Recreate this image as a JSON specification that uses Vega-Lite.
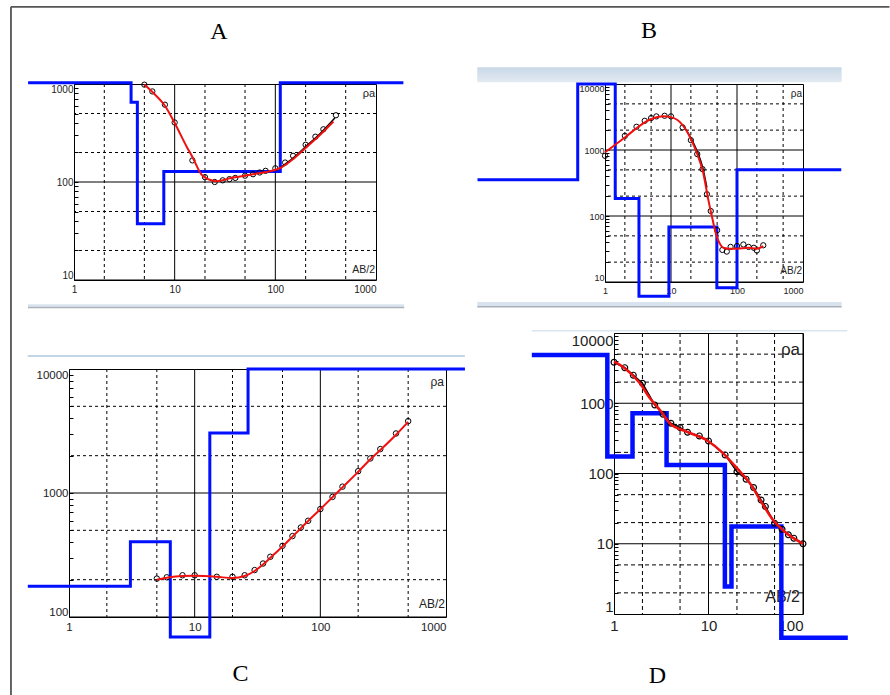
{
"$schema": "https://vega.github.io/schema/vega-lite/v6.json",
"padding": {"left": 9, "top": 5, "right": 0, "bottom": 0},
"background": "white",
"bounds": "flush",
"spacing": 249,
"config": {
  "view": {"stroke": "#000", "strokeWidth": 1},
  "axis": {"labelFont": "Liberation Sans", "labelColor": "#222", "grid": false, "domain": false},
  "title": {"font": "Liberation Serif", "fontSize": 24, "fontWeight": "normal", "color": "#000"},
  "text": {"font": "Liberation Sans", "color": "#222"}
},
"datasets": {
  "gxMin": [{"x":2},{"x":5},{"x":20},{"x":50},{"x":200},{"x":500}],
  "gxMaj": [{"x":10},{"x":100}],
  "gyMin": [{"y":2},{"y":5},{"y":20},{"y":50},{"y":200},{"y":500},{"y":2000},{"y":5000}],
  "gyMaj": [{"y":10},{"y":100},{"y":1000}],
  "frame": [{"x":0.2365,"x2":0.2365,"y":6124,"y2":0.000537},{"x":0.2365,"x2":126000000,"y":6124,"y2":6124}],
  "A_band": [{"x":0.349,"x2":1905,"y":5.655,"y2":5.33}],
  "A_bandline": [{"x":0.349,"x2":1905,"y":5.236}],
  "B_topband": [{"x":0.0116,"x2":3848,"y":17920,"y2":10612}],
  "B_band": [{"x":0.0116,"x2":3848,"y":4.97,"y2":4.32}],
  "B_bandline": [{"x":0.0116,"x2":3848,"y":4.205}],
  "C_topline": [{"x":0.469,"x2":1413,"y":12740}],
  "D_topline": [{"x":0.135,"x2":294,"y":10790}],
  "A_model": [{"i":0,"x":0.35,"y":1030},{"i":1,"x":3.69,"y":1030},{"i":2,"x":3.69,"y":650},{"i":3,"x":4.26,"y":650},{"i":4,"x":4.26,"y":37.5},{"i":5,"x":7.8,"y":37.5},{"i":6,"x":7.8,"y":128},{"i":7,"x":112,"y":128},{"i":8,"x":112,"y":1030},{"i":9,"x":1870,"y":1030}],
  "A_obs": [{"x":5,"y":985},{"x":6,"y":840},{"x":8,"y":615},{"x":10,"y":405},{"x":15,"y":166},{"x":20,"y":112},{"x":25,"y":100},{"x":30,"y":104},{"x":35,"y":107},{"x":40,"y":110},{"x":50,"y":116},{"x":60,"y":120},{"x":70,"y":125},{"x":80,"y":130},{"x":100,"y":138},{"x":125,"y":158},{"x":150,"y":185},{"x":200,"y":240},{"x":250,"y":290},{"x":300,"y":345},{"x":400,"y":480}],
  "A_fit": [{"x":5,"y":990},{"x":6.15,"y":810},{"x":8,"y":600},{"x":10,"y":400},{"x":13.2,"y":228},{"x":15,"y":180},{"x":18.5,"y":119},{"x":22,"y":106},{"x":26,"y":102},{"x":38,"y":111},{"x":60,"y":120},{"x":112,"y":139},{"x":151,"y":172},{"x":205,"y":228},{"x":279,"y":304},{"x":378,"y":415}],
  "A_black": [{"x":112,"y":140},{"x":151,"y":176},{"x":205,"y":234},{"x":279,"y":313},{"x":390,"y":450}],
  "B_model": [{"i":0,"x":0.0117,"y":353},{"i":1,"x":0.386,"y":353},{"i":2,"x":0.386,"y":10000},{"i":3,"x":1.43,"y":10000},{"i":4,"x":1.43,"y":184},{"i":5,"x":3.27,"y":184},{"i":6,"x":3.27,"y":6.1},{"i":7,"x":9.3,"y":6.1},{"i":8,"x":9.3,"y":68.4},{"i":9,"x":49.5,"y":68.4},{"i":10,"x":49.5,"y":8.2},{"i":11,"x":100,"y":8.2},{"i":12,"x":100,"y":500},{"i":13,"x":3800,"y":500}],
  "B_obs": [{"x":1,"y":817},{"x":2,"y":1640},{"x":3,"y":2250},{"x":4,"y":2770},{"x":5,"y":3050},{"x":6,"y":3230},{"x":8,"y":3300},{"x":10,"y":3230},{"x":15,"y":2200},{"x":20,"y":1410},{"x":25,"y":867},{"x":30,"y":513},{"x":35,"y":214},{"x":40,"y":119},{"x":50,"y":61},{"x":60,"y":30.6},{"x":70,"y":28.9},{"x":80,"y":34},{"x":100,"y":35},{"x":125,"y":37},{"x":150,"y":34},{"x":180,"y":33},{"x":200,"y":30},{"x":250,"y":36}],
  "B_fit": [{"x":1,"y":920},{"x":2,"y":1550},{"x":3.8,"y":2530},{"x":5,"y":2950},{"x":7.6,"y":3250},{"x":10,"y":3150},{"x":15.3,"y":2330},{"x":20,"y":1470},{"x":25,"y":870},{"x":30.7,"y":457},{"x":36.6,"y":180},{"x":42.6,"y":89},{"x":49,"y":50},{"x":55,"y":38},{"x":62,"y":33},{"x":74,"y":32},{"x":100,"y":32},{"x":150,"y":33},{"x":200,"y":32},{"x":250,"y":35}],
  "B_black": [{"x":15,"y":2400},{"x":20,"y":1530},{"x":25,"y":950},{"x":30,"y":560},{"x":35,"y":270}],
  "C_model": [{"i":0,"x":0.47,"y":177},{"i":1,"x":3.08,"y":177},{"i":2,"x":3.08,"y":404},{"i":3,"x":6.4,"y":404},{"i":4,"x":6.4,"y":69},{"i":5,"x":13.2,"y":69},{"i":6,"x":13.2,"y":3050},{"i":7,"x":26.6,"y":3050},{"i":8,"x":26.6,"y":10000},{"i":9,"x":1415,"y":10000}],
  "C_obs": [{"x":5,"y":204},{"x":6,"y":209},{"x":8,"y":217},{"x":10,"y":217},{"x":15,"y":211},{"x":20,"y":211},{"x":25,"y":217},{"x":30,"y":239},{"x":35,"y":270},{"x":40,"y":306},{"x":50,"y":375},{"x":60,"y":449},{"x":70,"y":527},{"x":80,"y":597},{"x":100,"y":742},{"x":125,"y":930},{"x":150,"y":1125},{"x":200,"y":1500},{"x":250,"y":1900},{"x":300,"y":2260},{"x":400,"y":3020},{"x":500,"y":3800}],
  "C_fit": [{"x":5,"y":200},{"x":6,"y":207},{"x":8,"y":214},{"x":10,"y":215},{"x":15,"y":211},{"x":20,"y":206},{"x":25,"y":214},{"x":30,"y":235},{"x":35,"y":265},{"x":40,"y":300},{"x":50,"y":370},{"x":60,"y":445},{"x":70,"y":520},{"x":80,"y":595},{"x":100,"y":740},{"x":125,"y":925},{"x":150,"y":1110},{"x":200,"y":1480},{"x":250,"y":1870},{"x":300,"y":2220},{"x":400,"y":2950},{"x":500,"y":3750}],
  "D_model": [{"i":0,"x":0.135,"y":4870},{"i":1,"x":0.85,"y":4870},{"i":2,"x":0.85,"y":174},{"i":3,"x":1.57,"y":174},{"i":4,"x":1.57,"y":720},{"i":5,"x":3.6,"y":720},{"i":6,"x":3.6,"y":132},{"i":7,"x":14.9,"y":132},{"i":8,"x":14.9,"y":2.46},{"i":9,"x":17.5,"y":2.46},{"i":10,"x":17.5,"y":17.6},{"i":11,"x":59,"y":17.6},{"i":12,"x":59,"y":0.46},{"i":13,"x":298,"y":0.46}],
  "D_obs": [{"x":1,"y":3830},{"x":1.3,"y":3210},{"x":1.6,"y":2510},{"x":2,"y":1920},{"x":2.7,"y":946},{"x":3.3,"y":697},{"x":4,"y":519},{"x":5,"y":450},{"x":6,"y":387},{"x":8,"y":343},{"x":10,"y":291},{"x":15,"y":184},{"x":20,"y":106},{"x":25,"y":83},{"x":30,"y":63},{"x":36,"y":42},{"x":40,"y":34},{"x":50,"y":19.6},{"x":60,"y":16.1},{"x":70,"y":13.4},{"x":80,"y":12},{"x":100,"y":10}],
  "D_fit": [{"x":1,"y":3900},{"x":1.3,"y":3150},{"x":1.88,"y":1920},{"x":2.4,"y":1175},{"x":3.06,"y":803},{"x":3.9,"y":519},{"x":5.86,"y":394},{"x":9.5,"y":300},{"x":14.3,"y":194},{"x":20,"y":119},{"x":27.3,"y":73},{"x":37.7,"y":36},{"x":48,"y":22},{"x":66.6,"y":14.2},{"x":100,"y":10}]
},
"vconcat": [
 {"bounds": "flush", "spacing": 0, "hconcat": [
  {"width": 5, "height": 1, "view": {"stroke": null}, "data": {"values": [{}]}, "mark": {"type": "point", "opacity": 0}, "encoding": {}},
  {"bounds": "flush", "spacing": 531, "hconcat": [
   {"bounds": "flush", "vconcat": [
    {"width": 302, "height": 196,
     "title": {"text": "A", "orient": "top", "frame": "group", "anchor": "middle", "dx": -6, "offset": -57.2, "baseline": "alphabetic"},
     "layer": [
      {"data": {"name": "gxMin"}, "mark": {"type": "rule", "clip": true, "color": "#000", "strokeWidth": 1, "strokeDash": [3,3]},
       "encoding": {"x": {"field": "x", "type": "quantitative", "scale": {"type": "log", "domain": [1,1000], "nice": false}}}},
      {"data": {"name": "gxMaj"}, "mark": {"type": "rule", "clip": true, "color": "#000", "strokeWidth": 1},
       "encoding": {"x": {"field": "x", "type": "quantitative", "scale": {"type": "log", "domain": [1,1000], "nice": false}}}},
      {"data": {"name": "gyMin"}, "mark": {"type": "rule", "clip": true, "color": "#000", "strokeWidth": 1, "strokeDash": [3,3]},
       "encoding": {"y": {"field": "y", "type": "quantitative", "scale": {"type": "log", "domain": [10,1000], "nice": false}}}},
      {"data": {"name": "gyMaj"}, "mark": {"type": "rule", "clip": true, "color": "#000", "strokeWidth": 1},
       "encoding": {"y": {"field": "y", "type": "quantitative", "scale": {"type": "log", "domain": [10,1000], "nice": false}}}},
      {"data": {"name": "frame"}, "mark": {"type": "rule", "color": "#555", "strokeWidth": 1.8},
       "encoding": {"x": {"field": "x", "type": "quantitative", "scale": {"type": "log", "domain": [1,1000], "nice": false}}, "x2": {"field": "x2"},
                    "y": {"field": "y", "type": "quantitative", "scale": {"type": "log", "domain": [10,1000], "nice": false}}, "y2": {"field": "y2"}}},
      {"data": {"name": "A_band"}, "mark": {"type": "rect", "color": "#d9e3ee"},
       "encoding": {"x": {"field": "x", "type": "quantitative", "scale": {"type": "log", "domain": [1,1000], "nice": false}}, "x2": {"field": "x2"},
                    "y": {"field": "y", "type": "quantitative", "scale": {"type": "log", "domain": [10,1000], "nice": false}}, "y2": {"field": "y2"}}},
      {"data": {"name": "A_bandline"}, "mark": {"type": "rule", "color": "#a9b1ba", "strokeWidth": 1.5},
       "encoding": {"x": {"field": "x", "type": "quantitative", "scale": {"type": "log", "domain": [1,1000], "nice": false}}, "x2": {"field": "x2"},
                    "y": {"field": "y", "type": "quantitative", "scale": {"type": "log", "domain": [10,1000], "nice": false}}}},
      {"data": {"values": [{}]}, "mark": {"type": "text", "text": "ρa", "align": "right", "baseline": "alphabetic", "dx": -1, "dy": 13, "fontSize": 11},
       "encoding": {"x": {"datum": 1000, "type": "quantitative", "scale": {"type": "log", "domain": [1,1000], "nice": false}},
                    "y": {"datum": 1000, "type": "quantitative", "scale": {"type": "log", "domain": [10,1000], "nice": false}}}},
      {"data": {"values": [{}]}, "mark": {"type": "text", "text": "AB/2", "align": "right", "baseline": "alphabetic", "dx": -1, "dy": -7, "fontSize": 10.5},
       "encoding": {"x": {"datum": 1000, "type": "quantitative", "scale": {"type": "log", "domain": [1,1000], "nice": false}},
                    "y": {"datum": 10, "type": "quantitative", "scale": {"type": "log", "domain": [10,1000], "nice": false}}}},
      {"data": {"name": "A_model"}, "mark": {"type": "line", "color": "#0010ff", "strokeWidth": 3},
       "encoding": {"x": {"field": "x", "type": "quantitative", "scale": {"type": "log", "domain": [1,1000], "nice": false}},
                    "y": {"field": "y", "type": "quantitative", "scale": {"type": "log", "domain": [10,1000], "nice": false}},
                    "order": {"field": "i", "type": "quantitative"}}},
      {"data": {"name": "A_black"}, "mark": {"type": "line", "color": "#000", "strokeWidth": 1.5, "interpolate": "monotone"},
       "encoding": {"x": {"field": "x", "type": "quantitative", "scale": {"type": "log", "domain": [1,1000], "nice": false}},
                    "y": {"field": "y", "type": "quantitative", "scale": {"type": "log", "domain": [10,1000], "nice": false}}}},
      {"data": {"name": "A_obs"}, "mark": {"type": "point", "filled": false, "color": "#000", "size": 28, "strokeWidth": 1, "opacity": 1},
       "encoding": {"x": {"field": "x", "type": "quantitative", "scale": {"type": "log", "domain": [1,1000], "nice": false},
                      "axis": {"title": null, "values": [1,10,100,1000], "format": "d", "labelFontSize": 10, "ticks": false, "labelPadding": 4, "labelFlush": false, "labelOverlap": false,
                        "labelAlign": {"condition": {"test": "datum.value >= 1000", "value": "right"}, "value": "center"}}},
                    "y": {"field": "y", "type": "quantitative", "scale": {"type": "log", "domain": [10,1000], "nice": false},
                      "axis": {"title": null, "values": [10,20,30,40,50,60,70,80,90,100,200,300,400,500,600,700,800,900,1000], "format": "d",
                        "labelExpr": "datum.value == 10 || datum.value == 100 || datum.value == 1000 ? datum.label : ''",
                        "labelFontSize": 10, "labelFlush": true, "labelOverlap": false, "tickSize": -4, "tickColor": "#000", "labelPadding": 5}}}},
      {"data": {"name": "A_fit"}, "mark": {"type": "line", "color": "#f01010", "strokeWidth": 2, "interpolate": "monotone"},
       "encoding": {"x": {"field": "x", "type": "quantitative", "scale": {"type": "log", "domain": [1,1000], "nice": false}},
                    "y": {"field": "y", "type": "quantitative", "scale": {"type": "log", "domain": [10,1000], "nice": false}}}}
     ]}
   ]},
   {"bounds": "flush", "vconcat": [
    {"width": 198, "height": 198,
     "title": {"text": "B", "orient": "top", "frame": "group", "anchor": "middle", "dx": -55, "offset": 4.8, "baseline": "alphabetic"},
     "layer": [
      {"data": {"name": "gxMin"}, "mark": {"type": "rule", "clip": true, "color": "#000", "strokeWidth": 1, "strokeDash": [3,3]},
       "encoding": {"x": {"field": "x", "type": "quantitative", "scale": {"type": "log", "domain": [1,1000], "nice": false}}}},
      {"data": {"name": "gxMaj"}, "mark": {"type": "rule", "clip": true, "color": "#000", "strokeWidth": 1},
       "encoding": {"x": {"field": "x", "type": "quantitative", "scale": {"type": "log", "domain": [1,1000], "nice": false}}}},
      {"data": {"name": "gyMin"}, "mark": {"type": "rule", "clip": true, "color": "#000", "strokeWidth": 1, "strokeDash": [3,3]},
       "encoding": {"y": {"field": "y", "type": "quantitative", "scale": {"type": "log", "domain": [10,10000], "nice": false}}}},
      {"data": {"name": "gyMaj"}, "mark": {"type": "rule", "clip": true, "color": "#000", "strokeWidth": 1},
       "encoding": {"y": {"field": "y", "type": "quantitative", "scale": {"type": "log", "domain": [10,10000], "nice": false}}}},
      {"data": {"name": "B_topband"}, "mark": {"type": "rect", "color": {"gradient": "linear", "x1": 0, "y1": 0, "x2": 0, "y2": 1, "stops": [{"offset": 0, "color": "#c9d8e7"}, {"offset": 1, "color": "#e3eaf2"}]}},
       "encoding": {"x": {"field": "x", "type": "quantitative", "scale": {"type": "log", "domain": [1,1000], "nice": false}}, "x2": {"field": "x2"},
                    "y": {"field": "y", "type": "quantitative", "scale": {"type": "log", "domain": [10,10000], "nice": false}}, "y2": {"field": "y2"}}},
      {"data": {"name": "B_band"}, "mark": {"type": "rect", "color": "#d9e3ee"},
       "encoding": {"x": {"field": "x", "type": "quantitative", "scale": {"type": "log", "domain": [1,1000], "nice": false}}, "x2": {"field": "x2"},
                    "y": {"field": "y", "type": "quantitative", "scale": {"type": "log", "domain": [10,10000], "nice": false}}, "y2": {"field": "y2"}}},
      {"data": {"name": "B_bandline"}, "mark": {"type": "rule", "color": "#a9b1ba", "strokeWidth": 1.5},
       "encoding": {"x": {"field": "x", "type": "quantitative", "scale": {"type": "log", "domain": [1,1000], "nice": false}}, "x2": {"field": "x2"},
                    "y": {"field": "y", "type": "quantitative", "scale": {"type": "log", "domain": [10,10000], "nice": false}}}},
      {"data": {"values": [{}]}, "mark": {"type": "text", "text": "ρa", "align": "right", "baseline": "alphabetic", "dx": -1, "dy": 13, "fontSize": 10},
       "encoding": {"x": {"datum": 1000, "type": "quantitative", "scale": {"type": "log", "domain": [1,1000], "nice": false}},
                    "y": {"datum": 10000, "type": "quantitative", "scale": {"type": "log", "domain": [10,10000], "nice": false}}}},
      {"data": {"values": [{}]}, "mark": {"type": "text", "text": "AB/2", "align": "right", "baseline": "alphabetic", "dx": -1, "dy": -8, "fontSize": 10},
       "encoding": {"x": {"datum": 1000, "type": "quantitative", "scale": {"type": "log", "domain": [1,1000], "nice": false}},
                    "y": {"datum": 10, "type": "quantitative", "scale": {"type": "log", "domain": [10,10000], "nice": false}}}},
      {"data": {"name": "B_model"}, "mark": {"type": "line", "color": "#0010ff", "strokeWidth": 3},
       "encoding": {"x": {"field": "x", "type": "quantitative", "scale": {"type": "log", "domain": [1,1000], "nice": false}},
                    "y": {"field": "y", "type": "quantitative", "scale": {"type": "log", "domain": [10,10000], "nice": false}},
                    "order": {"field": "i", "type": "quantitative"}}},
      {"data": {"name": "B_black"}, "mark": {"type": "line", "color": "#000", "strokeWidth": 1.5, "interpolate": "monotone"},
       "encoding": {"x": {"field": "x", "type": "quantitative", "scale": {"type": "log", "domain": [1,1000], "nice": false}},
                    "y": {"field": "y", "type": "quantitative", "scale": {"type": "log", "domain": [10,10000], "nice": false}}}},
      {"data": {"name": "B_obs"}, "mark": {"type": "point", "filled": false, "color": "#000", "size": 28, "strokeWidth": 1, "opacity": 1},
       "encoding": {"x": {"field": "x", "type": "quantitative", "scale": {"type": "log", "domain": [1,1000], "nice": false},
                      "axis": {"title": null, "values": [1,10,100,1000], "format": "d", "labelFontSize": 9, "ticks": false, "labelPadding": 4, "labelFlush": false, "labelOverlap": false,
                        "labelAlign": {"condition": {"test": "datum.value >= 1000", "value": "right"}, "value": "center"}}},
                    "y": {"field": "y", "type": "quantitative", "scale": {"type": "log", "domain": [10,10000], "nice": false},
                      "axis": {"title": null, "values": [10,20,30,40,50,60,70,80,90,100,200,300,400,500,600,700,800,900,1000,2000,3000,4000,5000,6000,7000,8000,9000,10000], "format": "d",
                        "labelExpr": "datum.value == 10 || datum.value == 100 || datum.value == 1000 || datum.value == 10000 ? datum.label : ''",
                        "labelFontSize": 9, "labelFlush": true, "labelOverlap": false, "tickSize": -4, "tickColor": "#000", "labelPadding": 5}}}},
      {"data": {"name": "B_fit"}, "mark": {"type": "line", "color": "#f01010", "strokeWidth": 2, "interpolate": "monotone"},
       "encoding": {"x": {"field": "x", "type": "quantitative", "scale": {"type": "log", "domain": [1,1000], "nice": false}},
                    "y": {"field": "y", "type": "quantitative", "scale": {"type": "log", "domain": [10,10000], "nice": false}}}}
     ]}
   ]}
  ]}
 ]},
 {"bounds": "flush", "spacing": 545, "hconcat": [
  {"bounds": "flush", "spacing": 0, "vconcat": [
   {"width": 1, "height": 36, "view": {"stroke": null}, "data": {"values": [{}]}, "mark": {"type": "point", "opacity": 0}, "encoding": {}},
   {"width": 377, "height": 248,
    "title": {"text": "C", "orient": "bottom", "frame": "group", "anchor": "middle", "dx": -17, "offset": 38.3, "baseline": "alphabetic"},
    "layer": [
     {"data": {"name": "gxMin"}, "mark": {"type": "rule", "clip": true, "color": "#000", "strokeWidth": 1, "strokeDash": [3,3]},
      "encoding": {"x": {"field": "x", "type": "quantitative", "scale": {"type": "log", "domain": [1,1000], "nice": false}}}},
     {"data": {"name": "gxMaj"}, "mark": {"type": "rule", "clip": true, "color": "#000", "strokeWidth": 1},
      "encoding": {"x": {"field": "x", "type": "quantitative", "scale": {"type": "log", "domain": [1,1000], "nice": false}}}},
     {"data": {"name": "gyMin"}, "mark": {"type": "rule", "clip": true, "color": "#000", "strokeWidth": 1, "strokeDash": [3,3]},
      "encoding": {"y": {"field": "y", "type": "quantitative", "scale": {"type": "log", "domain": [100,10000], "nice": false}}}},
     {"data": {"name": "gyMaj"}, "mark": {"type": "rule", "clip": true, "color": "#000", "strokeWidth": 1},
      "encoding": {"y": {"field": "y", "type": "quantitative", "scale": {"type": "log", "domain": [100,10000], "nice": false}}}},
     {"data": {"name": "C_topline"}, "mark": {"type": "rule", "color": "#c3d5e8", "strokeWidth": 2},
      "encoding": {"x": {"field": "x", "type": "quantitative", "scale": {"type": "log", "domain": [1,1000], "nice": false}}, "x2": {"field": "x2"},
                   "y": {"field": "y", "type": "quantitative", "scale": {"type": "log", "domain": [100,10000], "nice": false}}}},
     {"data": {"values": [{}]}, "mark": {"type": "text", "text": "ρa", "align": "right", "baseline": "alphabetic", "dx": -2, "dy": 17, "fontSize": 12},
      "encoding": {"x": {"datum": 1000, "type": "quantitative", "scale": {"type": "log", "domain": [1,1000], "nice": false}},
                   "y": {"datum": 10000, "type": "quantitative", "scale": {"type": "log", "domain": [100,10000], "nice": false}}}},
     {"data": {"values": [{}]}, "mark": {"type": "text", "text": "AB/2", "align": "right", "baseline": "alphabetic", "dx": -1, "dy": -9, "fontSize": 12},
      "encoding": {"x": {"datum": 1000, "type": "quantitative", "scale": {"type": "log", "domain": [1,1000], "nice": false}},
                   "y": {"datum": 100, "type": "quantitative", "scale": {"type": "log", "domain": [100,10000], "nice": false}}}},
     {"data": {"name": "C_model"}, "mark": {"type": "line", "color": "#0010ff", "strokeWidth": 3},
      "encoding": {"x": {"field": "x", "type": "quantitative", "scale": {"type": "log", "domain": [1,1000], "nice": false}},
                   "y": {"field": "y", "type": "quantitative", "scale": {"type": "log", "domain": [100,10000], "nice": false}},
                   "order": {"field": "i", "type": "quantitative"}}},
     {"data": {"name": "C_obs"}, "mark": {"type": "point", "filled": false, "color": "#000", "size": 30, "strokeWidth": 1, "opacity": 1},
      "encoding": {"x": {"field": "x", "type": "quantitative", "scale": {"type": "log", "domain": [1,1000], "nice": false},
                     "axis": {"title": null, "values": [1,10,100,1000], "format": "d", "labelFontSize": 11.5, "ticks": false, "labelPadding": 4, "labelFlush": false, "labelOverlap": false,
                       "labelAlign": {"condition": {"test": "datum.value >= 1000", "value": "right"}, "value": "center"}}},
                   "y": {"field": "y", "type": "quantitative", "scale": {"type": "log", "domain": [100,10000], "nice": false},
                     "axis": {"title": null, "values": [100,200,300,400,500,600,700,800,900,1000,2000,3000,4000,5000,6000,7000,8000,9000,10000], "format": "d",
                       "labelExpr": "datum.value == 100 || datum.value == 1000 || datum.value == 10000 ? datum.label : ''",
                       "labelFontSize": 11.5, "labelFlush": true, "labelOverlap": false, "tickSize": -4, "tickColor": "#000", "labelPadding": 5}}}},
     {"data": {"name": "C_fit"}, "mark": {"type": "line", "color": "#f01010", "strokeWidth": 2, "interpolate": "monotone"},
      "encoding": {"x": {"field": "x", "type": "quantitative", "scale": {"type": "log", "domain": [1,1000], "nice": false}},
                   "y": {"field": "y", "type": "quantitative", "scale": {"type": "log", "domain": [100,10000], "nice": false}}}}
    ]}
  ]},
  {"bounds": "flush", "vconcat": [
   {"width": 189, "height": 281,
    "title": {"text": "D", "orient": "bottom", "frame": "group", "anchor": "middle", "dx": -51, "offset": 36.4, "baseline": "alphabetic"},
    "layer": [
     {"data": {"name": "gxMin"}, "mark": {"type": "rule", "clip": true, "color": "#000", "strokeWidth": 1, "strokeDash": [4,3]},
      "encoding": {"x": {"field": "x", "type": "quantitative", "scale": {"type": "log", "domain": [1,100], "nice": false}}}},
     {"data": {"name": "gxMaj"}, "mark": {"type": "rule", "clip": true, "color": "#000", "strokeWidth": 1},
      "encoding": {"x": {"field": "x", "type": "quantitative", "scale": {"type": "log", "domain": [1,100], "nice": false}}}},
     {"data": {"name": "gyMin"}, "mark": {"type": "rule", "clip": true, "color": "#000", "strokeWidth": 1, "strokeDash": [4,3]},
      "encoding": {"y": {"field": "y", "type": "quantitative", "scale": {"type": "log", "domain": [1,10000], "nice": false}}}},
     {"data": {"name": "gyMaj"}, "mark": {"type": "rule", "clip": true, "color": "#000", "strokeWidth": 1},
      "encoding": {"y": {"field": "y", "type": "quantitative", "scale": {"type": "log", "domain": [1,10000], "nice": false}}}},
     {"data": {"name": "D_topline"}, "mark": {"type": "rule", "color": "#dbe5f0", "strokeWidth": 1.5},
      "encoding": {"x": {"field": "x", "type": "quantitative", "scale": {"type": "log", "domain": [1,100], "nice": false}}, "x2": {"field": "x2"},
                   "y": {"field": "y", "type": "quantitative", "scale": {"type": "log", "domain": [1,10000], "nice": false}}}},
     {"data": {"values": [{}]}, "mark": {"type": "text", "text": "ρa", "align": "right", "baseline": "alphabetic", "dx": -3, "dy": 22, "fontSize": 17},
      "encoding": {"x": {"datum": 100, "type": "quantitative", "scale": {"type": "log", "domain": [1,100], "nice": false}},
                   "y": {"datum": 10000, "type": "quantitative", "scale": {"type": "log", "domain": [1,10000], "nice": false}}}},
     {"data": {"values": [{}]}, "mark": {"type": "text", "text": "AB/2", "align": "right", "baseline": "alphabetic", "dx": -3, "dy": -12, "fontSize": 16},
      "encoding": {"x": {"datum": 100, "type": "quantitative", "scale": {"type": "log", "domain": [1,100], "nice": false}},
                   "y": {"datum": 1, "type": "quantitative", "scale": {"type": "log", "domain": [1,10000], "nice": false}}}},
     {"data": {"name": "D_model"}, "mark": {"type": "line", "color": "#0010ff", "strokeWidth": 4.5},
      "encoding": {"x": {"field": "x", "type": "quantitative", "scale": {"type": "log", "domain": [1,100], "nice": false}},
                   "y": {"field": "y", "type": "quantitative", "scale": {"type": "log", "domain": [1,10000], "nice": false}},
                   "order": {"field": "i", "type": "quantitative"}}},
     {"data": {"name": "D_obs"}, "mark": {"type": "line", "color": "#000", "strokeWidth": 1.5},
      "encoding": {"x": {"field": "x", "type": "quantitative", "scale": {"type": "log", "domain": [1,100], "nice": false}},
                   "y": {"field": "y", "type": "quantitative", "scale": {"type": "log", "domain": [1,10000], "nice": false}}}},
     {"data": {"name": "D_obs"}, "mark": {"type": "point", "filled": false, "color": "#000", "size": 34, "strokeWidth": 1.2, "opacity": 1},
      "encoding": {"x": {"field": "x", "type": "quantitative", "scale": {"type": "log", "domain": [1,100], "nice": false},
                     "axis": {"title": null, "values": [1,10,100], "format": "d", "labelFontSize": 15, "ticks": false, "labelPadding": 4, "labelFlush": false, "labelOverlap": false,
                       "labelAlign": {"condition": {"test": "datum.value >= 100", "value": "right"}, "value": "center"}}},
                   "y": {"field": "y", "type": "quantitative", "scale": {"type": "log", "domain": [1,10000], "nice": false},
                     "axis": {"title": null, "values": [1,2,3,4,5,6,7,8,9,10,20,30,40,50,60,70,80,90,100,200,300,400,500,600,700,800,900,1000,2000,3000,4000,5000,6000,7000,8000,9000,10000], "format": "d",
                       "labelExpr": "datum.value == 1 || datum.value == 10 || datum.value == 100 || datum.value == 1000 || datum.value == 10000 ? datum.label : ''",
                       "labelFontSize": 15, "labelFlush": true, "labelOverlap": false, "tickSize": -4, "tickColor": "#000", "labelPadding": 5}}}},
     {"data": {"name": "D_fit"}, "mark": {"type": "line", "color": "#f01010", "strokeWidth": 2.5, "interpolate": "monotone"},
      "encoding": {"x": {"field": "x", "type": "quantitative", "scale": {"type": "log", "domain": [1,100], "nice": false}},
                   "y": {"field": "y", "type": "quantitative", "scale": {"type": "log", "domain": [1,10000], "nice": false}}}}
    ]}
  ]}
 ]}
]
}
